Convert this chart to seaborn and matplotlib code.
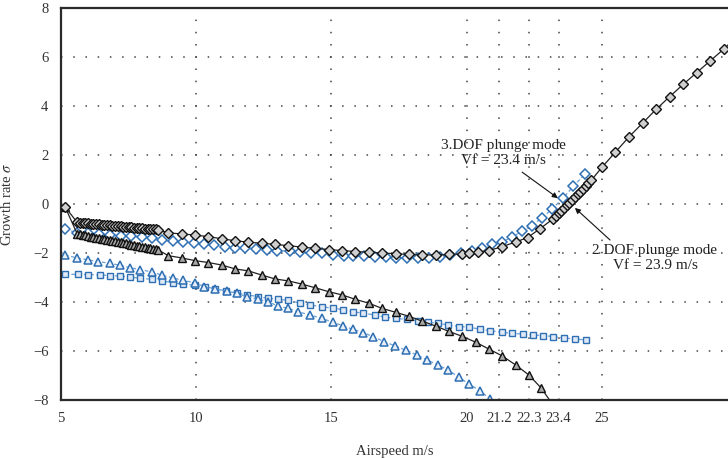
import numpy as np
import matplotlib
matplotlib.use("Agg")
import matplotlib.pyplot as plt
import seaborn as sns

# --- data ---
# black line, diamonds (upper branch)
bd_x = [5.15,
        5.6, 5.7, 5.8, 5.9, 6.0, 6.1, 6.2, 6.3, 6.4, 6.5, 6.6, 6.7, 6.8, 6.9, 7.0, 7.1,
        7.2, 7.3, 7.4, 7.5, 7.6, 7.7, 7.8, 7.9, 8.0, 8.1, 8.2, 8.3, 8.4, 8.5, 8.6,
        8.97, 9.46, 9.95, 10.45, 10.94, 11.44, 11.93, 12.42, 12.92, 13.41, 13.91, 14.4,
        14.9, 15.39, 15.88, 16.38, 16.87, 17.37, 17.86, 18.35, 18.85, 19.34, 19.83,
        20.1, 20.4, 20.82, 21.31, 21.81, 22.25, 22.72,
        23.2, 23.3, 23.4, 23.5, 23.6, 23.7, 23.8, 23.9, 24.0, 24.1, 24.2, 24.3, 24.4, 24.5, 24.6,
        25.0, 25.5, 26.0, 26.5, 27.0, 27.5, 28.0, 28.5, 29.0, 29.5, 30.0]
bd_y = [-0.12,
        -0.75, -0.76, -0.77, -0.78, -0.79, -0.80, -0.81, -0.82, -0.83, -0.84, -0.85, -0.86,
        -0.87, -0.88, -0.89, -0.90, -0.91, -0.92, -0.93, -0.94, -0.95, -0.96, -0.97, -0.98,
        -0.99, -1.00, -1.01, -1.02, -1.03, -1.04, -1.05,
        -1.18, -1.22, -1.27, -1.33, -1.42, -1.50, -1.56, -1.60, -1.65, -1.70, -1.76, -1.81,
        -1.86, -1.90, -1.94, -1.97, -2.00, -2.03, -2.06, -2.08, -2.08, -2.06, -2.04,
        -2.01, -1.97, -1.90, -1.74, -1.55, -1.37, -1.00,
        -0.60, -0.49, -0.38, -0.27, -0.16, -0.05, 0.06, 0.17, 0.28, 0.39, 0.50, 0.61, 0.72, 0.84, 0.96,
        1.50, 2.12, 2.74, 3.30, 3.86, 4.38, 4.88, 5.36, 5.84, 6.32, 6.85]

# black line, triangles (lower branch)
bt_x = [5.15,
        5.6, 5.7, 5.8, 5.9, 6.0, 6.1, 6.2, 6.3, 6.4, 6.5, 6.6, 6.7, 6.8, 6.9, 7.0, 7.1,
        7.2, 7.3, 7.4, 7.5, 7.6, 7.7, 7.8, 7.9, 8.0, 8.1, 8.2, 8.3, 8.4, 8.5, 8.6,
        8.97, 9.46, 9.95, 10.45, 10.94, 11.44, 11.93, 12.42, 12.92, 13.41, 13.91, 14.4,
        14.9, 15.39, 15.88, 16.38, 16.87, 17.37, 17.86, 18.35, 18.85, 19.34, 19.83,
        20.33, 20.82, 21.31, 21.81, 22.3, 22.76, 23.25]
bt_y = [-0.12,
        -1.22, -1.24, -1.26, -1.28, -1.31, -1.33, -1.35, -1.37, -1.39, -1.41, -1.44, -1.46,
        -1.48, -1.50, -1.52, -1.55, -1.57, -1.59, -1.61, -1.63, -1.66, -1.68, -1.70, -1.72,
        -1.74, -1.77, -1.79, -1.81, -1.83, -1.85, -1.88,
        -2.11, -2.20, -2.31, -2.39, -2.49, -2.65, -2.73, -2.90, -3.06, -3.14, -3.27, -3.42,
        -3.58, -3.71, -3.89, -4.05, -4.26, -4.42, -4.58, -4.78, -4.98, -5.20, -5.40,
        -5.64, -5.92, -6.20, -6.57, -6.98, -7.52, -8.30]

# blue dashed, diamonds
ld_x = [5.15, 5.6, 6.0, 6.4, 6.8, 7.2, 7.6, 8.0, 8.35, 8.72, 9.15, 9.5, 9.9, 10.3, 10.65,
        11.05, 11.45, 11.8, 12.2, 12.6, 13.0, 13.45, 13.85, 14.25, 14.65, 15.05, 15.45,
        15.8, 16.2, 16.6, 17.0, 17.4, 17.8, 18.2, 18.6, 19.0, 19.4, 19.8, 20.2, 20.55,
        20.95, 21.3, 21.66, 22.03, 22.4, 22.77, 23.14, 23.57, 23.94, 24.37]
ld_y = [-1.03, -1.17, -1.20, -1.23, -1.26, -1.29, -1.31, -1.35, -1.40, -1.47, -1.53, -1.56,
        -1.60, -1.64, -1.68, -1.74, -1.80, -1.80, -1.82, -1.87, -1.90, -1.92, -1.96, -1.99,
        -2.02, -2.07, -2.11, -2.13, -2.14, -2.16, -2.18, -2.20, -2.22, -2.22, -2.20, -2.15,
        -2.10, -2.02, -1.90, -1.79, -1.64, -1.55, -1.36, -1.12, -0.88, -0.58, -0.22, 0.25,
        0.72, 1.22]

# blue dashed, triangles
lt_x = [5.15, 5.58, 6.0, 6.38, 6.81, 7.18, 7.55, 7.92, 8.35, 8.72, 9.15, 9.52, 9.95, 10.3,
        10.7, 11.13, 11.5, 11.87, 12.27, 12.66, 13.03, 13.4, 13.77, 14.2, 14.64, 15.07,
        15.44, 15.8, 16.18, 16.55, 16.95, 17.35, 17.75, 18.15, 18.52, 18.92, 19.32, 19.71,
        20.1, 20.49, 20.86]
lt_y = [-2.08, -2.20, -2.28, -2.35, -2.42, -2.50, -2.60, -2.68, -2.77, -2.90, -3.02, -3.12,
        -3.21, -3.38, -3.48, -3.55, -3.65, -3.78, -3.88, -3.99, -4.17, -4.26, -4.40, -4.53,
        -4.67, -4.83, -4.98, -5.12, -5.25, -5.42, -5.62, -5.79, -5.97, -6.15, -6.36, -6.56,
        -6.78, -7.07, -7.36, -7.62, -7.96]

# blue dashed, squares
ls_x = [5.15, 5.64, 6.0, 6.44, 6.81, 7.18, 7.55, 7.92, 8.35, 8.72, 9.15, 9.52, 9.95, 10.32,
        10.7, 11.1, 11.5, 11.87, 12.3, 12.66, 13.03, 13.4, 13.84, 14.2, 14.64, 15.07, 15.44,
        15.8, 16.18, 16.6, 16.98, 17.4, 17.78, 18.2, 18.57, 18.95, 19.32, 19.72, 20.1,
        20.49, 20.86, 21.29, 21.66, 22.09, 22.46, 22.83, 23.2, 23.61, 24.0, 24.4]
ls_y = [-2.87, -2.87, -2.88, -2.90, -2.92, -2.94, -2.98, -3.03, -3.07, -3.13, -3.22, -3.27,
        -3.31, -3.38, -3.45, -3.55, -3.63, -3.71, -3.78, -3.85, -3.89, -3.93, -4.05, -4.12,
        -4.19, -4.26, -4.31, -4.40, -4.46, -4.53, -4.62, -4.67, -4.71, -4.76, -4.83, -4.87,
        -4.94, -5.00, -5.03, -5.11, -5.17, -5.23, -5.28, -5.31, -5.35, -5.37, -5.41, -5.47,
        -5.51, -5.55]

xticks = [5, 10, 15, 20, 21.2, 22.3, 23.4, 25]
xtick_labels = ["5", "10", "15", "20", "21.2", "22.3", "23.4", "25"]
yticks = [-8, -6, -4, -2, 0, 2, 4, 6, 8]

sns.set_style("white")
plt.rcParams['font.family'] = ['Liberation Serif', 'DejaVu Serif']
plt.rcParams['mathtext.fontset'] = 'stix'

blue = "#2f6fb3"
blue_line = "#6aa0d6"

fig = plt.figure(figsize=(7.28, 4.58), dpi=100)
ax = fig.add_axes([61/728, 58/458, 667/728, 392/458])

# blue dashed curves
sns.lineplot(x=ls_x, y=ls_y, ax=ax, color=blue_line, linewidth=0.9, linestyle=(0, (3, 2)),
             marker="s", markersize=4.6, markeredgecolor=blue, markerfacecolor="#dfeaf6",
             markeredgewidth=1.0, sort=False, zorder=2)
sns.lineplot(x=lt_x, y=lt_y, ax=ax, color=blue_line, linewidth=0.9, linestyle=(0, (3, 2)),
             marker="^", markersize=6.2, markeredgecolor=blue, markerfacecolor="#e8f0f9",
             markeredgewidth=1.1, sort=False, zorder=2)
sns.lineplot(x=ld_x, y=ld_y, ax=ax, color=blue_line, linewidth=0.9, linestyle=(0, (3, 2)),
             marker="D", markersize=4.8, markeredgecolor=blue, markerfacecolor="white",
             markeredgewidth=1.1, sort=False, zorder=2)

# black solid curves
sns.lineplot(x=bt_x, y=bt_y, ax=ax, color="#222222", linewidth=0.9,
             marker="^", markersize=6.2, markeredgecolor="#111111", markerfacecolor="#a8a8a8",
             markeredgewidth=1.0, sort=False, zorder=3)
sns.lineplot(x=bd_x, y=bd_y, ax=ax, color="#222222", linewidth=0.9,
             marker="D", markersize=4.8, markeredgecolor="#111111", markerfacecolor="#cfcfcf",
             markeredgewidth=1.0, sort=False, zorder=3)

ax.set_xlim(5, 29.66)
ax.set_ylim(-8, 8)
ax.set_xticks(xticks)
ax.set_xticklabels(xtick_labels)
ax.set_yticks(yticks)
ax.set_yticklabels(["\u22128", "\u22126", "\u22124", "\u22122", "0", "2", "4", "6", "8"])

ax.grid(True, color="#444444", linestyle=(0, (1, 7)), linewidth=1.1)
ax.set_axisbelow(True)

for side in ["left", "bottom", "top"]:
    ax.spines[side].set_color("#2a2a2a")
    ax.spines[side].set_linewidth(1.6)
ax.spines["right"].set_visible(False)

ax.tick_params(direction="in", length=7, width=1.6, color="#111111",
               labelsize=10.5, labelcolor="#333333", top=False, right=False)
ax.tick_params(axis="y", pad=9)
ax.tick_params(axis="x", pad=9)

ax.set_xlabel("Airspeed m/s", fontsize=10.5, color="#333333", labelpad=14)
ax.set_ylabel("Growth rate $\\sigma$", fontsize=10.5, color="#333333", labelpad=14)

# annotations
ax.text(21.34, 2.08, "3.DOF plunge mode\nVf = 23.4 m/s", ha="center", va="center",
        fontsize=11, color="#222222", linespacing=1.25)
ax.annotate("", xy=(23.37, 0.24), xytext=(22.05, 1.3),
            arrowprops=dict(arrowstyle="-|>", color="#111111", lw=0.8,
                            mutation_scale=8, shrinkA=0, shrinkB=0))
ax.text(26.96, -2.2, "2 DOF plunge mode\nVf = 23.9 m/s", ha="center", va="center",
        fontsize=11, color="#222222", linespacing=1.25)
ax.annotate("", xy=(24.0, -0.16), xytext=(25.3, -1.47),
            arrowprops=dict(arrowstyle="-|>", color="#111111", lw=0.8,
                            mutation_scale=8, shrinkA=0, shrinkB=0))

fig.savefig("out.png", dpi=100)
